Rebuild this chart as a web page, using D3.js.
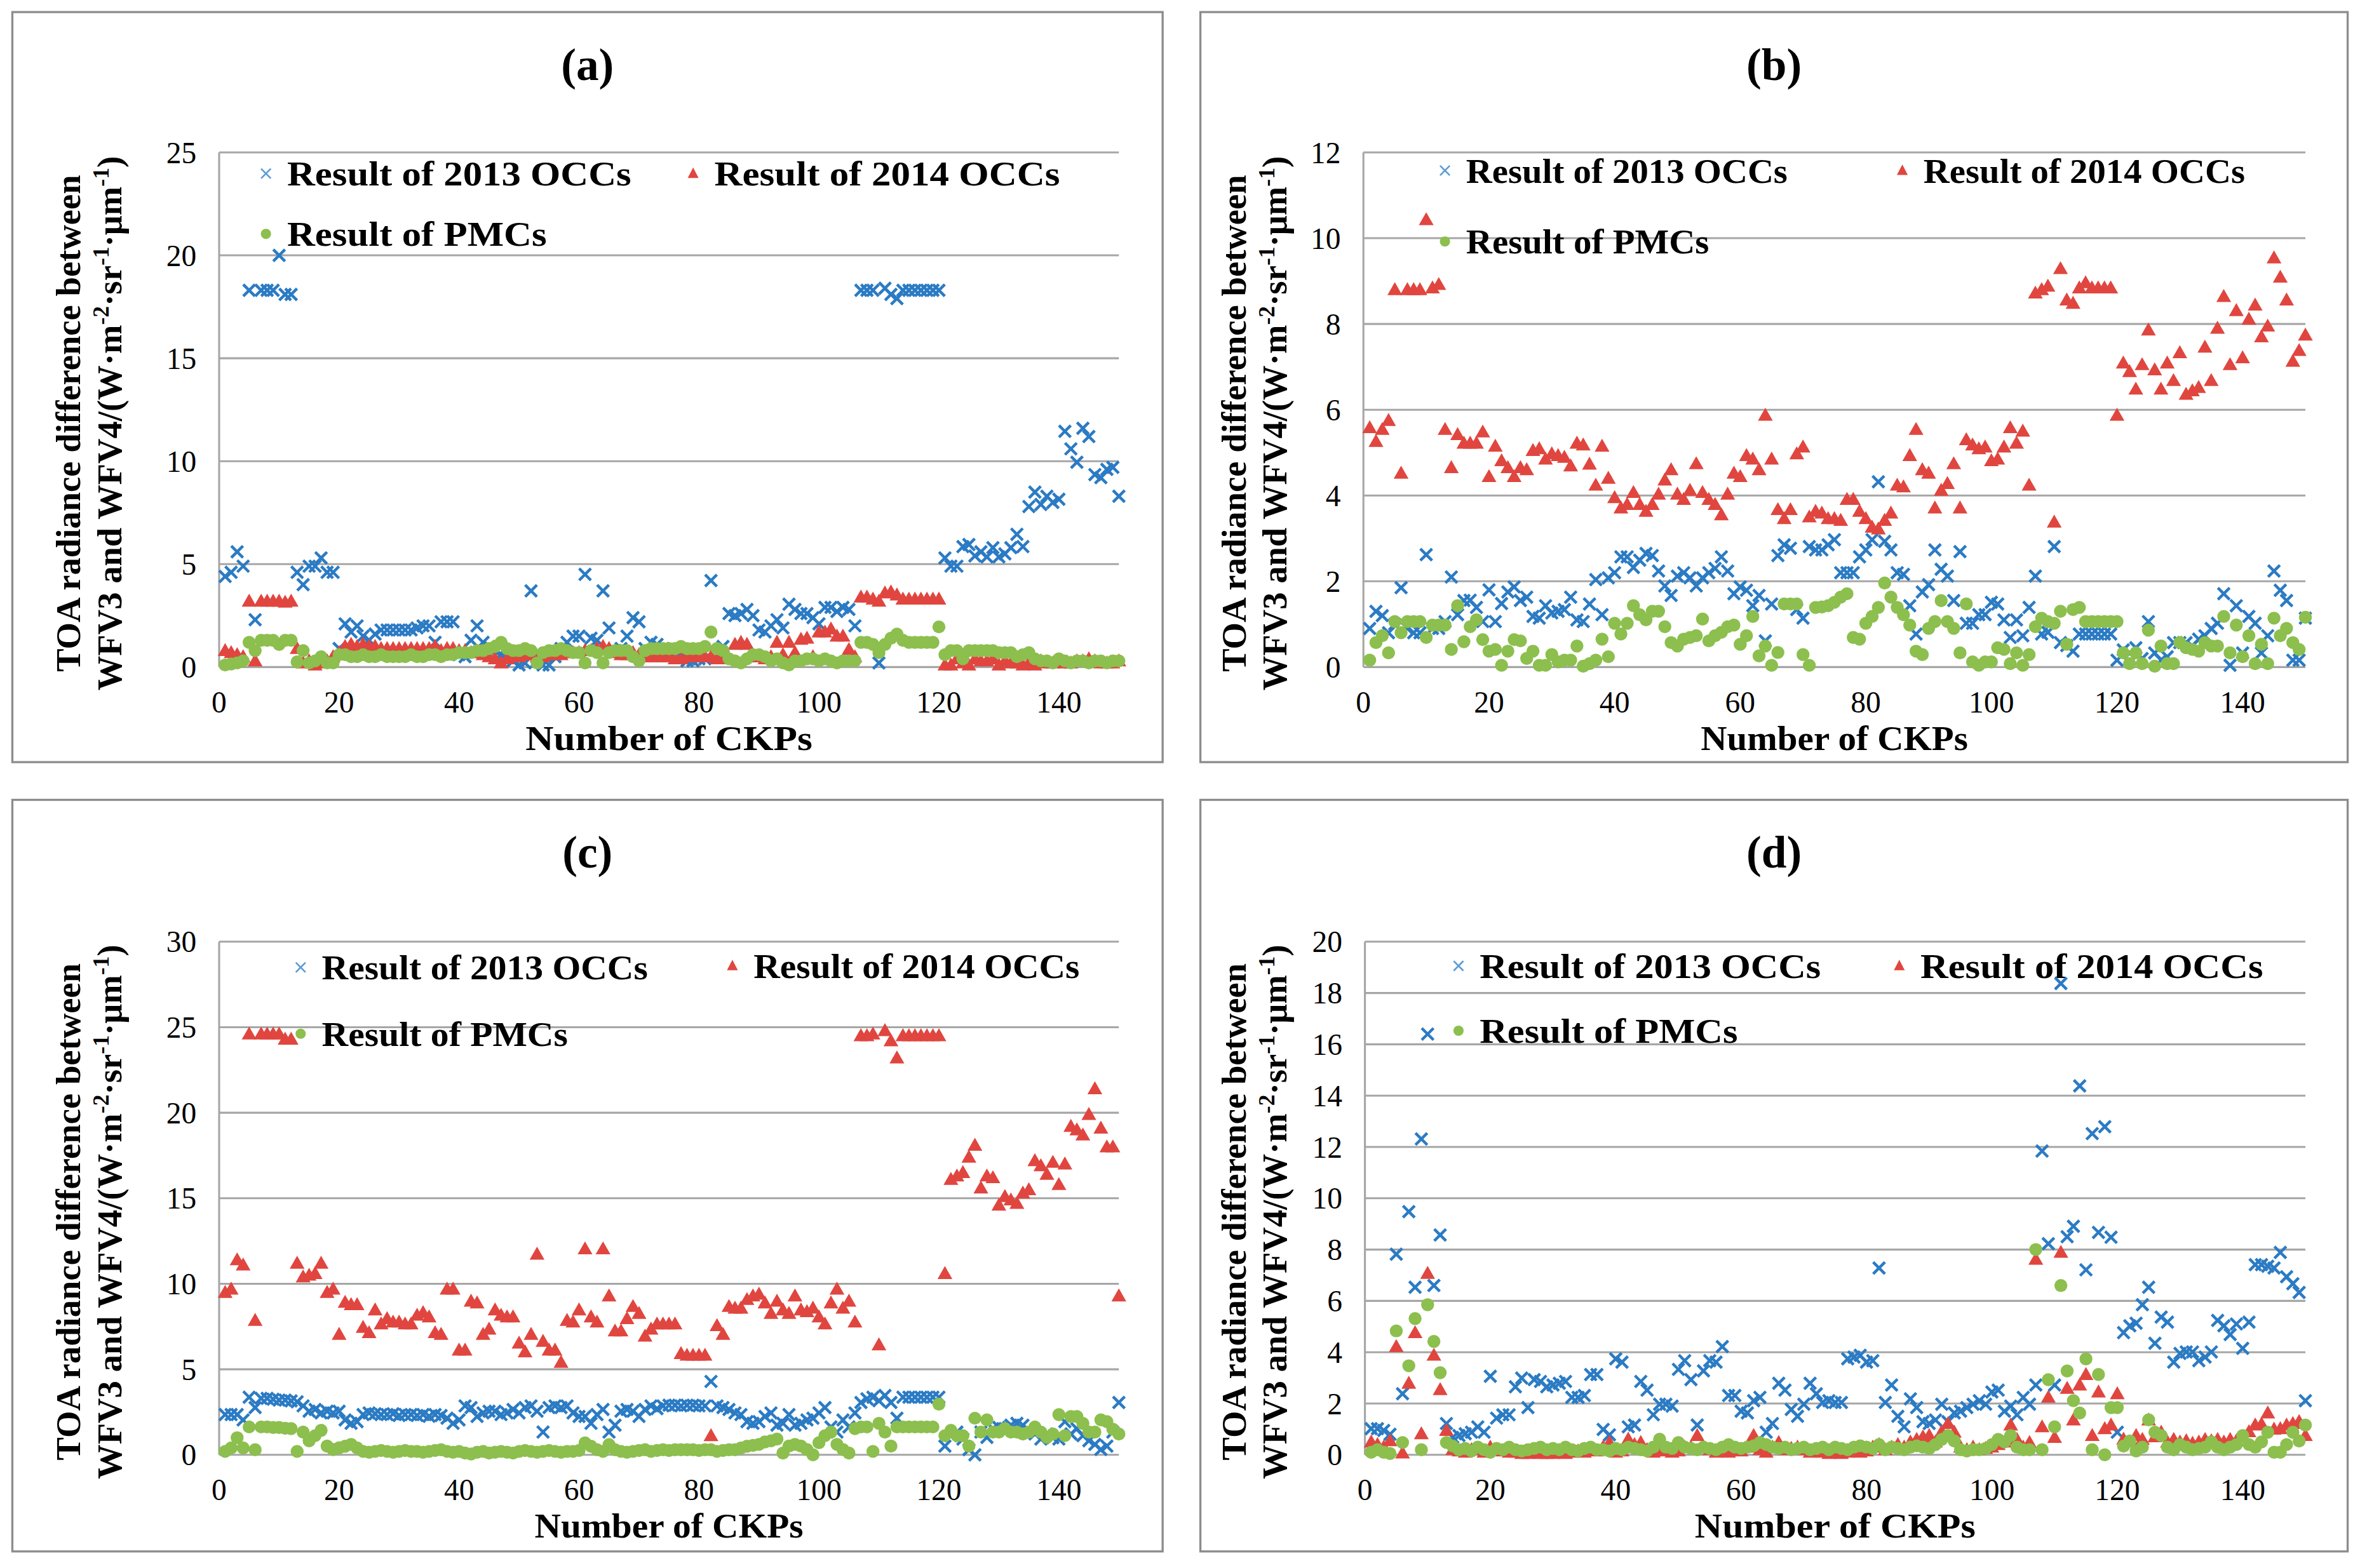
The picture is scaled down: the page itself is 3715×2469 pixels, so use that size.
<!DOCTYPE html>
<html>
<head>
<meta charset="utf-8">
<script src="https://cdn.jsdelivr.net/npm/d3@7"></script>
<style>
  body { margin: 0; background: #fff; }
  svg { display: block; }
</style>
</head>
<body>
<script>
// CKP numbers 1..150
var ckp = d3.range(1, 151);

// legend / series names
var seriesNames = ["Result of 2013 OCCs", "Result of 2014 OCCs", "Result of PMCs"];
var xTicks = [0, 20, 40, 60, 80, 100, 120, 140];

// ---- panel (a) ----
var a2013 = [4.4,4.6,5.6,4.9,18.3,2.3,18.3,18.3,18.3,20.0, 18.1,18.1,4.6,4.0,4.9,4.9,5.3,4.6,4.6,0.9,
  2.1,1.7,2.0,1.5,1.3,1.6,1.8,1.8,1.8,1.8, 1.8,1.8,1.9,2.0,2.0,1.2,2.2,2.2,2.2,0.6,
  0.5,1.3,2.0,1.2,1.0,0.8,0.6,0.5,0.3,0.1, 0.2,3.7,0.3,0.1,0.1,0.5,0.9,1.2,1.5,1.5,
  4.5,1.4,1.3,3.7,1.9,0.8,0.9,1.5,2.4,2.2, 0.9,1.2,1.1,0.9,0.8,0.6,0.5,0.3,0.3,0.4,
  0.4,4.2,0.6,1.0,2.6,2.5,2.6,2.8,2.5,1.8, 1.7,2.0,2.3,1.9,3.05,2.8,2.6,2.6,2.4,2.1,
  2.9,2.9,2.7,2.9,2.8,2.0,18.3,18.3,18.3,0.2, 18.4,18.1,17.9,18.3,18.3,18.3,18.3,18.3,18.3,18.3,
  5.3,4.9,4.9,5.85,5.95,5.4,5.6,5.35,5.8,5.35, 5.5,5.8,6.45,5.85,7.8,8.5,7.9,8.3,8.0,8.15,
  11.45,10.6,9.95,11.6,11.2,9.35,9.2,9.6,9.7,8.3];
var a2014 = [0.8,0.7,0.6,0.5,3.2,0.3,3.2,3.2,3.2,3.2, 3.15,3.2,0.9,0.2,0.3,0.1,0.2,0.3,0.5,0.7,
  1.0,1.1,1.0,1.1,1.0,1.0,0.9,0.9,0.9,0.9, 0.9,0.9,0.9,0.9,0.9,1.0,0.8,0.9,0.9,0.8,
  0.8,0.7,0.7,0.6,0.5,0.4,0.2,0.4,0.5,0.5, 0.6,0.6,0.5,0.5,0.6,0.6,0.6,0.7,0.7,0.7,
  0.8,0.8,0.9,1.0,0.9,0.7,0.6,0.6,0.7,0.6, 0.5,0.5,0.5,0.5,0.5,0.4,0.4,0.5,0.5,0.5,
  0.5,0.5,0.4,0.4,0.4,1.1,1.2,1.1,0.5,0.5, 0.4,0.5,1.2,0.6,1.2,0.7,1.35,1.4,0.5,1.7,
  1.7,1.85,1.5,1.5,0.85,0.5,3.4,3.4,3.3,3.2, 3.6,3.65,3.5,3.3,3.3,3.3,3.3,3.3,3.3,3.3,
  0.1,0.1,0.4,0.2,0.1,0.4,0.3,0.3,0.4,0.1, 0.3,0.2,0.2,0.1,0.2,0.1,0.3,0.2,0.2,0.3,
  0.2,0.2,0.3,0.3,0.4,0.3,0.2,0.2,0.2,0.3];
var aPMC = [0.1,0.15,0.2,0.3,1.2,0.8,1.3,1.3,1.3,1.1, 1.3,1.3,0.25,0.8,0.2,0.3,0.5,0.2,0.2,0.6,
  0.6,0.5,0.5,0.6,0.5,0.5,0.6,0.5,0.5,0.5, 0.5,0.6,0.5,0.5,0.6,0.6,0.5,0.6,0.6,0.7,
  0.7,0.7,0.8,0.8,0.9,1.0,1.2,0.9,0.8,0.8, 0.9,0.8,0.2,0.7,0.8,0.8,0.9,0.8,0.7,0.7,
  0.2,0.8,0.7,0.2,0.7,0.8,0.8,0.8,0.5,0.3, 0.8,0.9,0.9,0.9,0.9,0.9,1.0,0.9,0.9,0.9,
  1.0,1.7,0.9,0.8,0.4,0.3,0.2,0.4,0.6,0.6, 0.5,0.3,0.4,0.2,0.1,0.3,0.3,0.4,0.4,0.3,
  0.4,0.3,0.2,0.3,0.3,0.3,1.2,1.2,1.1,0.7, 1.1,1.4,1.6,1.3,1.2,1.2,1.2,1.2,1.2,1.95,
  0.6,0.8,0.8,0.4,0.8,0.8,0.8,0.8,0.8,0.7, 0.7,0.7,0.5,0.6,0.7,0.4,0.3,0.3,0.2,0.4,
  0.3,0.2,0.3,0.3,0.2,0.3,0.3,0.2,0.3,0.3];

// ---- panel (b) ----
var b2013 = [0.9,1.3,1.2,0.8,1.0,1.85,0.9,0.8,0.8,2.62, 0.9,0.9,1.06,2.1,1.22,1.55,1.56,1.39,1.06,1.8,
  1.06,1.48,1.75,1.87,1.55,1.63,1.18,1.14,1.43,1.26, 1.3,1.34,1.63,1.1,1.06,1.47,2.04,1.22,2.08,2.2,
  2.57,2.57,2.32,2.49,2.65,2.6,2.24,1.89,1.67,2.12, 2.2,2.08,1.89,2.08,2.2,2.3,2.57,2.24,1.71,1.87,
  1.79,1.43,1.67,0.61,1.47,2.6,2.85,2.77,1.34,1.14, 2.81,2.73,2.73,2.85,2.97,2.2,2.2,2.2,2.57,2.73,
  2.97,4.32,2.93,2.73,2.2,2.16,1.43,0.77,1.75,1.92, 2.73,2.28,2.12,1.55,2.69,1.02,1.02,1.22,1.22,1.51,
  1.47,1.1,0.69,1.1,0.73,1.39,2.12,0.77,0.81,2.81, 0.57,0.5,0.37,0.77,0.77,0.77,0.77,0.77,0.77,0.16,
  0.4,0.33,0.45,0.2,1.06,0.33,0.16,0.24,0.57,0.57, 0.57,0.49,0.65,0.73,0.9,1.02,1.71,0.04,1.43,0.33,
  1.18,1.02,0.33,0.73,2.24,1.79,1.55,0.16,0.16,1.14];
var b2014 = [5.58,5.26,5.54,5.75,8.8,4.52,8.8,8.8,8.8,10.43, 8.84,8.92,5.54,4.65,5.42,5.22,5.22,5.22,5.48,4.44,
  5.15,4.81,4.65,4.44,4.65,4.6,5.05,5.09,4.85,4.97, 4.93,4.89,4.69,5.22,5.18,4.73,4.24,5.15,4.4,3.95,
  3.71,3.79,4.07,3.79,3.63,3.79,4.03,4.36,4.6,4.03, 3.91,4.12,4.74,4.07,3.91,3.79,3.55,4.03,4.52,4.44,
  4.93,4.85,4.6,5.87,4.85,3.67,3.46,3.67,4.97,5.13, 3.5,3.63,3.59,3.46,3.46,3.42,3.91,3.91,3.63,3.46,
  3.26,3.22,3.42,3.59,4.24,4.2,4.93,5.54,4.6,4.52, 3.71,4.12,4.28,4.74,3.71,5.3,5.18,5.09,5.13,4.81,
  4.85,5.13,5.58,5.22,5.5,4.24,8.72,8.8,8.88,3.38, 9.29,8.56,8.48,8.84,8.96,8.84,8.84,8.84,8.84,5.87,
  7.09,6.89,6.48,7.05,7.86,6.93,6.48,7.09,6.68,7.33, 6.36,6.44,6.52,7.46,6.68,7.9,8.64,7.05,8.31,7.21,
  8.11,8.44,7.7,7.95,9.54,9.09,8.56,7.13,7.38,7.74];
var bPMC = [0.16,0.57,0.73,0.33,1.06,0.8,1.06,1.06,1.06,0.69, 0.98,0.98,0.98,0.41,1.43,0.59,0.94,1.1,0.64,0.37,
  0.41,0.04,0.37,0.64,0.61,0.2,0.37,0.04,0.04,0.29, 0.12,0.16,0.16,0.49,0.02,0.08,0.16,0.65,0.24,1.02,
  0.77,1.02,1.43,1.22,1.1,1.3,1.3,0.94,0.57,0.49, 0.65,0.69,0.73,1.12,0.61,0.73,0.81,0.94,0.98,0.53,
  0.73,1.18,0.26,0.49,0.04,0.34,1.47,1.47,1.47,0.29, 0.04,1.39,1.4,1.43,1.51,1.63,1.71,0.69,0.65,1.02,
  1.18,1.39,1.96,1.63,1.39,1.22,0.98,0.37,0.29,0.9, 1.06,1.55,1.06,0.9,0.33,1.47,0.12,0.04,0.12,0.12,
  0.45,0.41,0.08,0.33,0.04,0.29,0.94,1.14,1.06,1.02, 1.3,0.53,1.34,1.39,1.06,1.06,1.06,1.06,1.06,1.06,
  0.33,0.08,0.33,0.08,0.86,0.02,0.49,0.08,0.08,0.57, 0.45,0.41,0.37,0.57,0.49,0.49,1.18,0.33,0.98,0.24,
  0.73,0.08,0.53,0.08,1.14,0.73,0.9,0.57,0.41,1.16];

// ---- panel (c) ----
var c2013 = [2.35,2.35,2.35,2.04,3.37,2.76,3.3,3.3,3.25,3.2, 3.2,3.15,3.1,2.86,2.55,2.65,2.45,2.55,2.45,2.55,
  2.04,1.84,1.94,2.35,2.45,2.4,2.35,2.35,2.4,2.3, 2.35,2.35,2.3,2.35,2.25,2.35,2.3,2.14,1.84,2.04,
  2.86,2.76,2.24,2.45,2.55,2.55,2.35,2.45,2.65,2.45, 2.76,2.86,2.55,1.33,2.76,2.86,2.76,2.86,2.45,2.24,
  2.24,1.84,2.35,2.65,1.33,1.73,2.55,2.65,2.55,2.24, 2.65,2.86,2.7,2.86,2.9,2.9,2.86,2.9,2.9,2.86,
  2.86,4.29,2.86,2.76,2.65,2.45,2.35,1.94,1.84,1.94, 2.24,2.45,1.73,1.84,2.35,1.73,1.84,2.04,2.14,2.45,
  2.76,1.63,1.33,2.04,1.63,2.45,3.06,3.27,3.37,3.16, 3.47,3.06,2.14,3.37,3.37,3.37,3.37,3.37,3.37,3.37,
  0.51,1.12,1.33,0.92,0.3,0.0,1.33,1.02,1.53,1.6, 1.53,1.73,1.84,1.73,1.43,1.22,0.92,1.22,1.0,0.92,
  1.94,1.22,1.53,1.12,0.82,0.61,0.31,0.51,1.33,3.06];
var c2014 = [9.49,9.69,11.4,11.1,24.6,7.86,24.6,24.6,24.6,24.6, 24.3,24.3,11.2,10.4,10.5,10.6,11.2,9.49,9.69,7.04,
  8.92,8.78,8.78,7.45,7.14,8.47,7.65,7.96,7.76,7.76, 7.65,7.65,8.16,8.31,8.06,7.14,7.04,9.69,9.69,6.12,
  6.12,8.98,8.88,7.04,7.35,8.47,8.16,8.06,8.06,6.53, 6.02,7.04,11.73,6.63,6.12,6.12,5.41,7.86,7.76,8.47,
  12.04,8.06,7.76,12.04,9.29,7.24,7.24,7.96,8.67,8.27, 6.94,7.35,7.65,7.65,7.65,7.65,5.92,5.82,5.82,5.82,
  5.82,1.12,7.55,7.04,8.67,8.57,8.57,9.08,9.29,9.39, 8.88,8.27,8.98,8.47,8.27,9.29,8.47,8.37,8.57,8.06,
  7.65,8.88,9.69,8.57,8.98,7.76,24.5,24.5,24.6,6.43, 24.8,24.2,23.2,24.5,24.5,24.5,24.5,24.5,24.5,24.5,
  10.6,16.1,16.3,16.5,17.4,18.1,15.6,16.3,16.2,14.6, 15.1,14.9,14.7,15.3,15.5,17.2,16.9,16.4,17.1,15.8,
  17.0,19.2,19.0,18.7,19.9,21.4,19.1,18.0,18.0,9.29];
var cPMC = [0.2,0.4,1.0,0.4,1.63,0.3,1.63,1.63,1.6,1.6, 1.55,1.53,0.2,1.33,0.82,1.12,1.43,0.51,0.31,0.41,
  0.5,0.61,0.4,0.2,0.15,0.2,0.25,0.2,0.15,0.2, 0.25,0.2,0.2,0.15,0.2,0.25,0.3,0.2,0.15,0.2,
  0.1,0.05,0.15,0.2,0.1,0.15,0.2,0.15,0.1,0.2, 0.25,0.2,0.15,0.2,0.25,0.2,0.15,0.2,0.2,0.25,
  0.7,0.5,0.3,0.2,0.6,0.3,0.2,0.15,0.2,0.25, 0.3,0.2,0.25,0.3,0.25,0.3,0.3,0.3,0.3,0.25,
  0.3,0.3,0.2,0.25,0.3,0.3,0.4,0.5,0.55,0.61, 0.75,0.82,0.92,0.1,0.51,0.61,0.51,0.31,0.0,0.71,
  1.12,1.33,0.61,0.31,0.1,1.53,1.63,1.63,0.2,1.84, 1.33,0.51,1.63,1.63,1.63,1.63,1.63,1.63,1.63,2.96,
  1.12,1.43,1.12,1.12,0.51,2.14,1.33,2.04,1.33,1.33, 1.53,1.33,1.33,1.22,1.33,1.63,1.33,1.02,1.22,2.35,
  1.12,2.24,2.24,1.84,1.33,1.33,2.04,1.94,1.5,1.22];

// ---- panel (d) ----
var d2013 = [1.02,1.02,0.95,0.8,7.82,2.38,9.48,6.53,12.31,16.4, 6.6,8.57,1.22,0.68,0.75,0.82,0.88,1.09,0.88,3.06,
  1.43,1.56,1.56,2.65,2.99,1.84,2.93,2.86,2.65,2.72, 2.79,2.86,2.24,2.24,2.31,3.13,3.13,0.99,0.78,3.74,
  3.61,1.09,1.16,2.86,2.52,1.56,1.97,1.97,1.9,3.33, 3.67,2.93,1.16,3.27,3.67,3.61,4.22,2.31,2.31,1.7,
  1.63,2.11,2.24,0.88,1.22,2.79,2.52,1.77,1.5,1.97, 2.79,2.38,2.04,2.11,2.04,2.04,3.74,3.81,3.88,3.61,
  3.67,7.28,2.04,2.72,1.5,1.09,2.18,1.84,1.29,1.22, 1.36,1.97,1.29,1.63,1.7,1.84,1.97,2.11,1.97,2.45,
  2.52,1.7,1.9,1.56,2.24,1.97,2.72,11.84,8.23,2.72, 18.37,8.5,8.91,14.38,7.21,12.52,8.67,12.79,8.48,0.88,
  4.76,5.03,5.13,5.85,6.53,4.35,5.37,5.17,3.61,3.95, 4.01,4.01,3.67,3.81,4.01,5.24,5.03,4.69,5.1,4.15,
  5.17,7.41,7.41,7.35,7.28,7.89,6.94,6.67,6.33,2.11];
var d2014 = [0.5,0.4,0.3,0.55,4.22,0.07,2.79,4.76,0.82,7.07, 3.88,2.54,0.95,0.2,0.15,0.1,0.2,0.25,0.1,0.3,
  0.2,0.15,0.1,0.1,0.05,0.05,0.1,0.05,0.05,0.05, 0.1,0.05,0.1,0.15,0.1,0.2,0.15,0.3,0.48,0.1,
  0.15,0.61,0.4,0.48,0.2,0.1,0.15,0.2,0.1,0.15, 0.3,0.3,0.75,0.3,0.2,0.1,0.2,0.1,0.2,0.15,
  0.3,0.75,0.2,0.1,0.3,0.48,0.2,0.25,0.3,0.2, 0.1,0.15,0.1,0.05,0.1,0.05,0.1,0.2,0.1,0.15,
  0.3,0.4,0.2,0.3,0.4,0.3,0.5,0.6,0.7,0.75, 0.5,0.9,1.22,0.88,0.3,0.2,0.3,0.2,0.25,0.3,
  0.4,0.5,1.16,0.6,0.3,0.48,7.62,1.09,2.24,0.68, 7.89,2.59,1.36,2.72,3.13,0.75,2.45,1.02,1.16,2.38,
  0.61,0.5,0.75,0.6,1.36,0.7,0.88,0.5,0.6,0.5, 0.55,0.45,0.5,0.6,0.55,0.6,0.5,0.6,0.55,0.7,
  0.9,1.16,1.2,1.63,1.0,1.02,1.16,1.22,1.3,0.75];
var dPMC = [0.1,0.2,0.1,0.05,4.83,0.48,3.47,5.31,0.2,5.85, 4.42,3.2,0.48,0.34,0.2,0.25,0.15,0.3,0.2,0.1,
  0.25,0.2,0.3,0.2,0.15,0.2,0.25,0.3,0.2,0.25, 0.2,0.3,0.2,0.15,0.25,0.3,0.2,0.2,0.15,0.25,
  0.2,0.3,0.25,0.2,0.15,0.3,0.61,0.3,0.25,0.48, 0.3,0.25,0.2,0.3,0.25,0.2,0.3,0.4,0.3,0.25,
  0.3,0.35,0.48,0.4,0.3,0.25,0.3,0.2,0.25,0.3, 0.2,0.25,0.3,0.2,0.3,0.25,0.2,0.3,0.35,0.3,
  0.25,0.4,0.2,0.3,0.25,0.2,0.3,0.35,0.3,0.25, 0.4,0.6,0.75,0.54,0.2,0.15,0.2,0.2,0.25,0.4,
  0.6,0.5,0.75,0.3,0.2,0.2,8.0,0.2,2.93,1.09, 6.6,3.27,2.11,1.63,3.74,0.2,3.13,0.0,1.84,1.84,
  0.34,0.54,0.15,0.3,1.36,0.88,0.75,0.3,0.2,0.4, 0.3,0.2,0.25,0.3,0.5,0.3,0.2,0.3,0.4,0.75,
  0.4,0.3,0.5,0.88,0.1,0.1,0.4,0.88,0.54,1.16];

// drawing is done in the picture's own 1563 x 1039 units, then scaled up
var W = 1563, H = 1039;
var serif = '"Liberation Serif", "Times New Roman", serif';
var blue = "#2B7BC4", red = "#E0463F", green = "#8CBF4E", gridCol = "#A6A6A6";

var svg = d3.select("body").append("svg")
    .attr("width", 3715)
    .attr("height", 2469)
    .attr("viewBox", "0 0 " + W + " " + H);

svg.append("rect").attr("width", W).attr("height", H).attr("fill", "#fff");

// layout per panel; legW / xtW are the text widths seen in the picture, ytX the y-title baseline
var panels = [
  {tag: "(a)", box: [8, 8, 762, 497], l: 145, r: 741, t: 101, b: 442, yMax: 25, yStep: 5, ytX: 53,
   s: [a2013, a2014, aPMC], leg: [[176, 115], [459, 115], [176, 155]], legW: [228, 229, 172], xtW: 190},
  {tag: "(b)", box: [795, 8, 760, 497], l: 903, r: 1527, t: 101, b: 442, yMax: 12, yStep: 2, ytX: 825,
   s: [b2013, b2014, bPMC], leg: [[957, 113], [1260, 113], [957, 160]], legW: [213, 213, 161], xtW: 177},
  {tag: "(c)", box: [8, 530, 762, 498], l: 145, r: 741, t: 624, b: 964, yMax: 30, yStep: 5, ytX: 53,
   s: [c2013, c2014, cPMC], leg: [[199, 641], [485, 640], [199, 685]], legW: [216, 216, 163], xtW: 178},
  {tag: "(d)", box: [795, 530, 760, 498], l: 904, r: 1527, t: 624, b: 964, yMax: 20, yStep: 2, ytX: 825,
   s: [d2013, d2014, dPMC], leg: [[966, 640], [1258, 640], [966, 683]], legW: [226, 227, 171], xtW: 186}
];

// marker shapes
function crossPath(h) { return "M" + (-h) + "," + (-h) + "L" + h + "," + h + "M" + (-h) + "," + h + "L" + h + "," + (-h); }
function triPath(w, h) { return "M0," + (-h * 0.58) + "L" + w + "," + (h * 0.42) + "L" + (-w) + "," + (h * 0.42) + "Z"; }

panels.forEach(drawPanel);

function drawPanel(p) {
    var g = svg.append("g");

    // outer frame
    g.append("rect")
        .attr("x", p.box[0]).attr("y", p.box[1])
        .attr("width", p.box[2]).attr("height", p.box[3])
        .attr("fill", "none").attr("stroke", "#8C8C8C").attr("stroke-width", 1.4);

    var x = d3.scaleLinear().domain([0, 150]).range([p.l, p.r]);
    var y = d3.scaleLinear().domain([0, p.yMax]).range([p.b, p.t]);
    var yTicks = d3.range(0, p.yMax + 0.001, p.yStep);

    // gridlines
    g.selectAll(".grid").data(yTicks).join("line")
        .attr("x1", p.l).attr("x2", p.r)
        .attr("y1", d => y(d)).attr("y2", d => y(d))
        .attr("stroke", gridCol).attr("stroke-width", 1.3);

    // y axis line
    g.append("line")
        .attr("x1", p.l).attr("x2", p.l).attr("y1", p.t).attr("y2", p.b)
        .attr("stroke", gridCol).attr("stroke-width", 1.3);

    // tick labels
    g.selectAll(".yt").data(yTicks).join("text")
        .attr("x", p.l - 15).attr("y", d => y(d)).attr("dy", "0.35em")
        .attr("text-anchor", "end")
        .style("font-family", serif).style("font-size", "20px")
        .text(d => d);

    g.selectAll(".xt").data(xTicks).join("text")
        .attr("x", d => x(d)).attr("y", p.b + 30)
        .attr("text-anchor", "middle")
        .style("font-family", serif).style("font-size", "20px")
        .text(d => d);

    // panel tag
    g.append("text")
        .attr("x", (p.box[0] + p.box[0] + p.box[2]) / 2)
        .attr("y", p.box[1] + 45)
        .attr("text-anchor", "middle")
        .style("font-family", serif).style("font-size", "30px").style("font-weight", "bold")
        .text(p.tag);

    // x title
    g.append("text")
        .attr("x", (p.l + p.r) / 2).attr("y", p.b + 55)
        .attr("text-anchor", "middle")
        .attr("textLength", p.xtW).attr("lengthAdjust", "spacingAndGlyphs")
        .style("font-family", serif).style("font-size", "23px").style("font-weight", "bold")
        .text("Number of CKPs");

    // y title, two lines
    var cy = (p.t + p.b) / 2 + 9;
    var yl = g.append("g")
        .attr("transform", "translate(" + p.ytX + "," + cy + ") rotate(-90)")
        .style("font-family", serif).style("font-size", "23px").style("font-weight", "bold");
    yl.append("text").attr("text-anchor", "middle").attr("y", 0)
        .text("TOA radiance difference between");
    var t2 = yl.append("text").attr("text-anchor", "middle").attr("y", 27);
    t2.append("tspan").text("WFV3 and WFV4/(W\u00b7m");
    t2.append("tspan").attr("dy", -8).style("font-size", "15px").text("-2");
    t2.append("tspan").attr("dy", 8).text("\u00b7sr");
    t2.append("tspan").attr("dy", -8).style("font-size", "15px").text("-1");
    t2.append("tspan").attr("dy", 8).text("\u00b7\u03bcm");
    t2.append("tspan").attr("dy", -8).style("font-size", "15px").text("-1");
    t2.append("tspan").attr("dy", 8).text(")");

    // legend
    var legMark = [
        s => s.append("path").attr("d", crossPath(3.2)).attr("stroke", "#5B9BD5").attr("stroke-width", 1.1).attr("fill", "none"),
        s => s.append("path").attr("d", triPath(3.6, 7)).attr("fill", red),
        s => s.append("circle").attr("r", 3.4).attr("fill", green)
    ];
    p.leg.forEach(function (pos, k) {
        var lg = g.append("g").attr("transform", "translate(" + pos[0] + "," + pos[1] + ")");
        legMark[k](lg);
        lg.append("text").attr("x", 14).attr("y", 8)
            .attr("textLength", p.legW[k]).attr("lengthAdjust", "spacingAndGlyphs")
            .style("font-family", serif).style("font-size", "23.5px").style("font-weight", "bold")
            .text(seriesNames[k]);
    });

    // series: 2013 crosses, 2014 triangles, PMC circles (drawn in that order)
    g.append("g").selectAll("path").data(p.s[0]).join("path")
        .attr("transform", (d, i) => "translate(" + x(ckp[i]) + "," + y(d) + ")")
        .attr("d", crossPath(3.9))
        .attr("fill", "none").attr("stroke", blue).attr("stroke-width", 1.9);

    g.append("g").selectAll("path").data(p.s[1]).join("path")
        .attr("transform", (d, i) => "translate(" + x(ckp[i]) + "," + y(d) + ")")
        .attr("d", triPath(4.9, 8.6))
        .attr("fill", red);

    g.append("g").selectAll("circle").data(p.s[2]).join("circle")
        .attr("cx", (d, i) => x(ckp[i]))
        .attr("cy", d => y(d))
        .attr("r", 4.3)
        .attr("fill", green);
}
</script>
</body>
</html>
